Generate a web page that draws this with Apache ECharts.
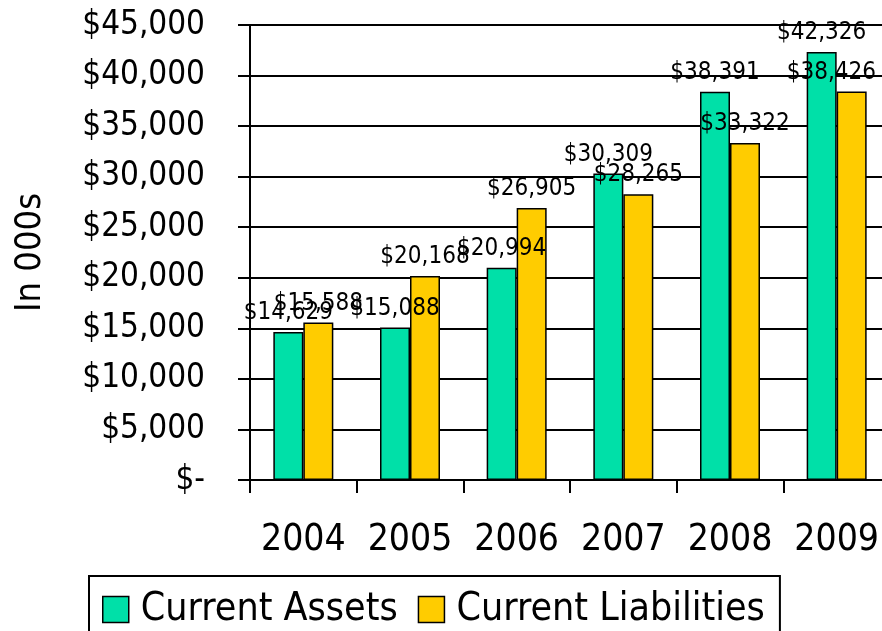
<!DOCTYPE html>
<html>
<head>
<meta charset="utf-8">
<script src="https://cdn.jsdelivr.net/npm/echarts@6/dist/echarts.min.js"></script>
<style>
  html, body { margin: 0; padding: 0; background: #fff; }
  #chart { width: 882px; height: 631px; }
</style>
</head>
<body>
<div id="chart"></div>
<script>
const years = ["2004", "2005", "2006", "2007", "2008", "2009"];
const currentAssets = [14629, 15088, 20994, 30309, 38391, 42326];
const currentLiabilities = [15588, 20168, 26905, 28265, 33322, 38426];
const seriesNames = ["Current Assets", "Current Liabilities"];

const font = "DejaVu Sans Condensed, DejaVu Sans, sans-serif";
const money = (v) => v === 0 ? "$-" : "$" + v.toLocaleString("en-US");

const myChart = echarts.init(document.getElementById("chart"));

const barLabel = {
  show: true,
  position: "top",
  distance: 7,
  color: "#000",
  fontFamily: font,
  fontSize: 24,
  formatter: (p) => money(p.value),
};

// keep labels that run past the right edge inside the canvas
const keepInside = (params) => {
  const r = params.labelRect;
  if (r.x + r.width > 876) {
    return { x: 876 - r.width, y: r.y, align: "left", verticalAlign: "top" };
  }
  return {};
};

const option = {
  animation: false,
  color: ["#00E0A8", "#FFCC00"],
  grid: { left: 250, right: -8, top: 25, bottom: 151, containLabel: false, outerBoundsMode: "none" },
  legend: {
    data: seriesNames,
    left: 89,
    top: 576,
    orient: "horizontal",
    itemWidth: 26,
    itemHeight: 26,
    itemGap: 20,
    padding: [14, 15, 30, 13],
    borderColor: "#000",
    borderWidth: 2,
    textStyle: { fontFamily: font, fontSize: 39, color: "#000", padding: [0, 0, 0, 7] },
    icon: "rect",
    itemStyle: { borderColor: "#000", borderWidth: 1.5 },
  },
  xAxis: {
    type: "category",
    data: years,
    axisLine: { show: true, lineStyle: { color: "#000", width: 2 } },
    axisTick: { show: true, length: 13, lineStyle: { color: "#000", width: 2 } },
    axisLabel: { interval: 0, margin: 42, fontFamily: font, fontSize: 37, color: "#000" },
  },
  yAxis: {
    type: "value",
    min: 0,
    max: 45000,
    interval: 5000,
    name: "In 000s",
    nameLocation: "middle",
    nameRotate: 90,
    nameGap: 201,
    nameTextStyle: { fontFamily: font, fontSize: 36, color: "#000" },
    axisLine: { show: true, lineStyle: { color: "#000", width: 2 } },
    axisTick: { show: true, length: 12, lineStyle: { color: "#000", width: 2 } },
    axisLabel: { margin: 45, fontFamily: font, fontSize: 33, color: "#000", formatter: money },
    splitLine: { show: true, lineStyle: { color: "#000", width: 2 } },
  },
  series: [
    {
      name: seriesNames[0],
      type: "bar",
      data: currentAssets,
      barWidth: 30,
      barGap: "0%",
      itemStyle: { borderColor: "#000", borderWidth: 1.5 },
      label: barLabel,
      labelLayout: keepInside,
    },
    {
      name: seriesNames[1],
      type: "bar",
      data: currentLiabilities,
      barWidth: 30,
      barGap: "0%",
      itemStyle: { borderColor: "#000", borderWidth: 1.5 },
      label: barLabel,
      labelLayout: keepInside,
    },
  ],
};
myChart.setOption(option);
</script>
</body>
</html>
